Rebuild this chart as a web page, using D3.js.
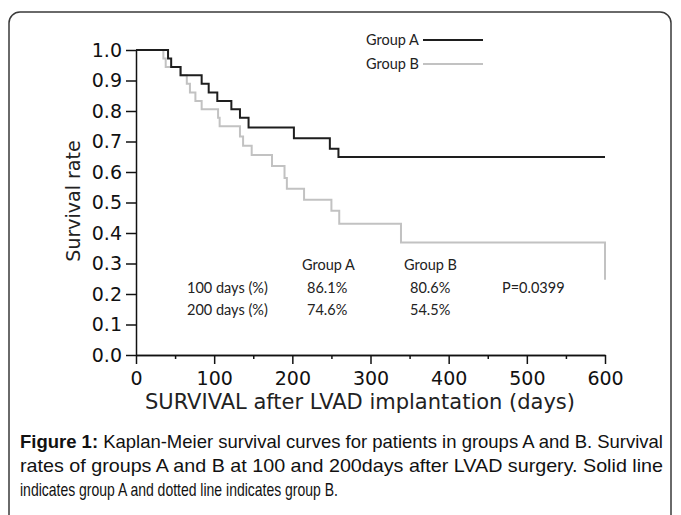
<!DOCTYPE html>
<html>
<head>
<meta charset="utf-8">
<script src="https://cdn.jsdelivr.net/npm/d3@7"></script>
<style>
  body { margin: 0; background: #fff; }
  svg { display: block; }
  .tick text { font-family: "DejaVu Sans", sans-serif; font-size: 19px; fill: #111; }
</style>
</head>
<body>
<svg id="chart" width="681" height="515"></svg>
<script>
// Kaplan-Meier steps
const groupADays = [0, 41, 45, 57, 84, 93, 104, 122, 133, 144, 202, 248, 259, 600];
const groupASurv = [1, 0.972, 0.944, 0.917, 0.889, 0.861, 0.833, 0.806, 0.778, 0.746, 0.711, 0.676, 0.649, 0.649];

const groupBDays = [0, 35, 38, 57, 65, 69, 76, 84, 105, 107, 133, 137, 148, 174, 190, 193, 215, 250, 260, 339, 600];
const groupBSurv = [1, 0.972, 0.944, 0.917, 0.889, 0.861, 0.833, 0.806, 0.778, 0.75, 0.716, 0.686, 0.656, 0.62, 0.58, 0.545, 0.509, 0.473, 0.43, 0.369, 0.247];

const xTicks = [0, 100, 200, 300, 400, 500, 600];
const xMinorTicks = [50, 150, 250, 350, 450, 550];
const yTicks = [0, 0.1, 0.2, 0.3, 0.4, 0.5, 0.6, 0.7, 0.8, 0.9, 1.0];

const legendNames = ["Group A", "Group B"];
const legendColors = ["#1e1e1e", "#c2c2c2"];

const tableHeads = ["Group A", "Group B"];
const tableRows = ["100 days (%)", "200 days (%)"];
const tableA = ["86.1%", "74.6%"];
const tableB = ["80.6%", "54.5%"];
const pValue = "P=0.0399";

const captionLines = [
  ["Figure 1:", " Kaplan-Meier survival curves for patients in groups A and B. Survival"],
  ["", "rates of groups A and B at 100 and 200days after LVAD surgery. Solid line"],
  ["", "indicates group A and dotted line indicates group B."]
];

let width = 681, height = 515;
let svg = d3.select("#chart");

// frame
svg.append("rect")
  .attr("x", 9).attr("y", 12)
  .attr("width", 662).attr("height", 520)
  .attr("rx", 11)
  .attr("fill", "none")
  .attr("stroke", "#3a3a3a")
  .attr("stroke-width", 1.5);

let x = d3.scaleLinear().domain([0, 600]).range([136, 605]);
let y = d3.scaleLinear().domain([0, 1]).range([355, 50]);

let line = d3.line()
  .x(d => x(d[0]))
  .y(d => y(d[1]))
  .curve(d3.curveStepAfter);

let series = [
  d3.zip(groupBDays, groupBSurv),
  d3.zip(groupADays, groupASurv)
];

svg.selectAll("path.km")
  .data(series).enter()
  .append("path")
  .attr("class", "km")
  .attr("d", line)
  .attr("fill", "none")
  .attr("stroke", (d, i) => i == 0 ? legendColors[1] : legendColors[0])
  .attr("stroke-width", 2);

// axes
svg.append("g")
  .attr("transform", "translate(136,0)")
  .call(d3.axisLeft(y).tickValues(yTicks).tickFormat(d3.format(".1f")).tickSize(10).tickSizeOuter(0).tickPadding(4));

svg.append("g")
  .attr("transform", "translate(0,355)")
  .call(d3.axisBottom(x).tickValues(xMinorTicks).tickFormat("").tickSize(4).tickSizeOuter(0));

svg.append("g")
  .attr("transform", "translate(0,355)")
  .call(d3.axisBottom(x).tickValues(xTicks).tickSize(9).tickSizeOuter(0).tickPadding(8));

svg.selectAll(".domain, .tick line").attr("stroke", "#111").attr("stroke-width", 1.5);

svg.append("text")
  .attr("transform", "translate(80,201) rotate(-90)")
  .attr("text-anchor", "middle")
  .style("font-family", "DejaVu Sans, sans-serif")
  .style("font-size", "19px")
  .attr("fill", "#222")
  .text("Survival rate");

svg.append("text")
  .attr("x", 360).attr("y", 409)
  .attr("text-anchor", "middle")
  .style("font-family", "DejaVu Sans, sans-serif")
  .style("font-size", "21px")
  .attr("fill", "#222")
  .text("SURVIVAL after LVAD implantation (days)");

// legend
let legend = svg.selectAll("g.legend")
  .data(legendNames).enter()
  .append("g")
  .attr("class", "legend")
  .attr("transform", (d, i) => `translate(366,${40 + i * 24})`);

legend.append("text")
  .attr("y", 5)
  .style("font-family", "Lato, sans-serif")
  .style("font-size", "14.5px")
  .attr("fill", "#222")
  .text(d => d);

legend.append("line")
  .attr("x1", 57).attr("x2", 117)
  .attr("stroke", (d, i) => legendColors[i])
  .attr("stroke-width", 2);

// stats table
let tfont = g => g.style("font-family", "Lato, sans-serif").style("font-size", "14.5px").attr("fill", "#222");

svg.selectAll("text.head")
  .data(tableHeads).enter()
  .append("text")
  .attr("class", "head")
  .attr("x", (d, i) => [302, 404][i]).attr("y", 270)
  .call(tfont).text(d => d);

svg.selectAll("text.rowlab")
  .data(tableRows).enter()
  .append("text")
  .attr("class", "rowlab")
  .attr("x", 187).attr("y", (d, i) => 293 + i * 22)
  .call(tfont).text(d => d);

svg.selectAll("text.colA")
  .data(tableA).enter()
  .append("text")
  .attr("class", "colA")
  .attr("x", 307).attr("y", (d, i) => 293 + i * 22)
  .call(tfont).text(d => d);

svg.selectAll("text.colB")
  .data(tableB).enter()
  .append("text")
  .attr("class", "colB")
  .attr("x", 410).attr("y", (d, i) => 293 + i * 22)
  .call(tfont).text(d => d);

svg.append("text")
  .attr("x", 502).attr("y", 293)
  .call(tfont).text(pValue);

// caption: narrow face faked with a horizontal squeeze, first two lines fitted to the full width
let squeeze = 0.8;
let cap = svg.selectAll("text.caption")
  .data(captionLines).enter()
  .append("text")
  .attr("class", "caption")
  .attr("transform", (d, i) => `translate(20,${448 + i * 24}) scale(${squeeze},1)`)
  .attr("textLength", (d, i) => i < 2 ? 643 / squeeze : null)
  .attr("lengthAdjust", "spacingAndGlyphs")
  .style("font-family", "Liberation Sans, Arial, sans-serif")
  .style("font-size", "17.5px")
  .attr("fill", "#111");

cap.append("tspan").style("font-weight", "bold").text(d => d[0]);
cap.append("tspan").text(d => d[1]);
</script>
</body>
</html>
